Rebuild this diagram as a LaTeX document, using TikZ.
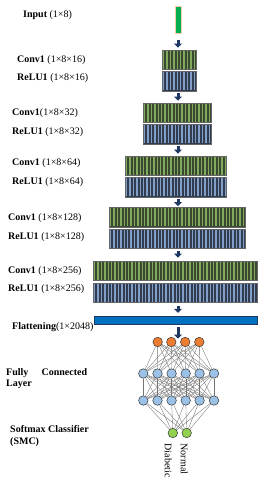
\documentclass[tikz,border=0pt]{standalone}
\usepackage{fontspec}
\setmainfont{Liberation Serif}
\usetikzlibrary{arrows.meta}

\definecolor{convdark}{RGB}{58,72,50}
\definecolor{convlite}{RGB}{128,170,92}
\definecolor{reludark}{RGB}{50,60,80}
\definecolor{relulite}{RGB}{128,160,200}
\definecolor{arrnavy}{RGB}{32,56,100}
\definecolor{flatblue}{RGB}{0,112,192}
\definecolor{inorange}{RGB}{237,125,49}
\definecolor{ingreen}{RGB}{0,176,80}
\definecolor{nodeblue}{RGB}{155,194,230}
\definecolor{nodegreen}{RGB}{146,208,80}

\begin{document}
\begin{tikzpicture}[
  x=1pt, y=-1pt,
  font=\fontsize{10}{11.5}\selectfont,
  lbl/.style={anchor=west, inner sep=0pt},
  blk/.style={draw=black!60, line width=0.4pt, minimum height=19.5pt, inner sep=0pt},
  convblk/.style={blk, fill=convdark, path picture={
    \foreach \k in {0,...,60}
      \fill[convlite] ([xshift=\k*3.4pt+1pt,yshift=0.6pt]path picture bounding box.south west) rectangle ++(1.4pt,18.3pt);}},
  relublk/.style={blk, fill=reludark, path picture={
    \foreach \k in {0,...,60}
      \fill[relulite] ([xshift=\k*3.4pt+1pt,yshift=0.6pt]path picture bounding box.south west) rectangle ++(1.4pt,18.3pt);}},
  arr/.style={line width=3pt, draw=arrnavy, -{Triangle[width=8pt,length=4pt]}},
  neuron/.style={circle, draw=black!80, line width=0.5pt, inner sep=0pt, minimum size=9.5pt},
  edge/.style={draw=black!55, line width=0.35pt}
]
  \useasboundingbox (0,0) rectangle (260,480);

  % Input
  \node[draw=inorange!40, fill=ingreen, line width=0.3pt, minimum width=5.3pt, minimum height=27pt, inner sep=0pt] (in) at (178,19.5) {};

  % Conv / ReLU blocks
  \node[convblk, minimum width=34pt] (c1) at (179,59.5) {};
  \node[relublk, minimum width=34pt] (r1) at (179,81) {};
  \node[convblk, minimum width=68pt] (c2) at (177,112.5) {};
  \node[relublk, minimum width=68pt] (r2) at (177,134) {};
  \node[convblk, minimum width=101pt] (c3) at (175.5,165.5) {};
  \node[relublk, minimum width=101pt] (r3) at (175.5,187) {};
  \node[convblk, minimum width=136pt] (c4) at (177,217) {};
  \node[relublk, minimum width=136pt] (r4) at (177,238.5) {};
  \node[convblk, minimum width=164pt] (c5) at (175,270.5) {};
  \node[relublk, minimum width=164pt] (r5) at (175,292.5) {};

  % Flattening
  \node[draw=arrnavy, fill=flatblue, line width=0.5pt, minimum width=163pt, minimum height=8pt, inner sep=0pt] (flat) at (175.5,320) {};

  % Arrows
  \draw[arr] ([yshift=-7pt]in.south) -- ([yshift=2pt]c1.north -| in);
  \draw[arr] ([yshift=-2pt]r1.south -| in) -- ([yshift=2pt]c2.north -| in);
  \draw[arr] ([yshift=-2pt]r2.south -| in) -- ([yshift=2pt]c3.north -| in);
  \draw[arr] ([yshift=-2pt]r3.south -| in) -- ([yshift=1pt]c4.north -| in);
  \draw[arr] ([yshift=-3pt]r4.south -| in) -- ([yshift=3pt]c5.north -| in);
  \draw[arr] ([yshift=-4pt]r5.south -| in) -- ([yshift=3pt]flat.north -| in);

  % Labels
  \node[lbl] (lin) at (23,15) {\textbf{Input} (1×8)};
  \node[lbl] (lc1) at (17,60) {\textbf{Conv1} (1×8×16)};
  \node[lbl] (lr1) at (17,78) {\textbf{ReLU1} (1×8×16)};
  \node[lbl] (lc2) at (12,113) {\textbf{Conv1}(1×8×32)};
  \node[lbl] (lr2) at (12,132) {\textbf{ReLU1} (1×8×32)};
  \node[lbl] (lc3) at (12,163) {\textbf{Conv1} (1×8×64)};
  \node[lbl] (lr3) at (12,182) {\textbf{ReLU1} (1×8×64)};
  \node[lbl] (lc4) at (8,218) {\textbf{Conv1} (1×8×128)};
  \node[lbl] (lr4) at (8,237) {\textbf{ReLU1} (1×8×128)};
  \node[lbl] (lc5) at (8,271) {\textbf{Conv1} (1×8×256)};
  \node[lbl] (lr5) at (8,289) {\textbf{ReLU1} (1×8×256)};
  \node[lbl] (lfl) at (12,327) {\textbf{Flattening}(1×2048)};
  \node[lbl, text width=81pt, align=justify, font=\fontsize{10}{11}\selectfont\bfseries] (lfc) at (6,378.5) {Fully Connected Layer};
  \node[lbl, align=left, font=\fontsize{10}{12}\selectfont\bfseries] (lsm) at (10,436) {Softmax Classifier\\(SMC)};

  % Fully connected network
  \foreach \i/\x in {1/157.7,2/171.3,3/185.2,4/199.3}
    \node[neuron, fill=inorange] (o\i) at (\x,342) {};
  \foreach \i/\x in {1/143.3,2/157.5,3/171.6,4/185.7,5/199.6,6/214} {
    \node[neuron, fill=nodeblue] (ha\i) at (\x,373.5) {};
    \node[neuron, fill=nodeblue] (hb\i) at (\x,400.5) {};
  }
  \node[neuron, fill=nodegreen] (out1) at (172.8,433) {};
  \node[neuron, fill=nodegreen] (out2) at (186.7,433) {};

  \draw[arr] ([yshift=-3pt]flat.south -| in) -- ([yshift=-1.5pt]o3.north -| in);

  \foreach \i in {1,...,4}
    \foreach \j in {1,...,6}
      \draw[edge] (o\i) -- (ha\j);
  \foreach \i in {1,...,6}
    \foreach \j in {1,...,6}
      \draw[edge] (ha\i) -- (hb\j);
  \foreach \i in {1,...,6}
    \foreach \j in {1,2}
      \draw[edge] (hb\i) -- (out\j);

  % Class labels
  \node[rotate=-90, anchor=west, inner sep=0pt] (ldia) at ([xshift=-4.5pt,yshift=-5.5pt]out1.south) {Diabetic};
  \node[rotate=-90, anchor=west, inner sep=0pt] (lnor) at ([xshift=-2.5pt,yshift=-5.5pt]out2.south) {Normal};
\end{tikzpicture}
\end{document}
